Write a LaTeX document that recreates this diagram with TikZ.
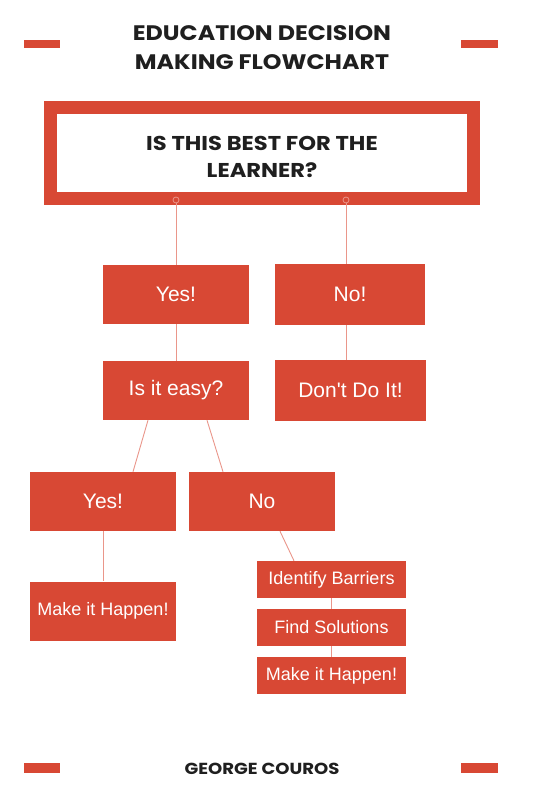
\documentclass[tikz,border=0pt]{standalone}
\usepackage{fontspec}
\setmainfont{Liberation Sans}
\newfontfamily\headfont{Poppins}[FakeStretch=1.13]
\usetikzlibrary{calc}
\definecolor{boxred}{RGB}{216,72,52}
\definecolor{linkred}{RGB}{234,150,138}
\tikzset{
	redbox/.style={fill=boxred, text=white, inner sep=0pt, minimum width=146pt, minimum height=59pt, font=\fontsize{21}{25}\selectfont},
	smallbox/.style={redbox, minimum width=149pt, minimum height=37pt, font=\fontsize{18}{22}\selectfont},
	link/.style={draw=linkred, line width=0.9pt},
	bar/.style={fill=boxred},
	head/.style={text=black!88, align=center, font=\headfont\bfseries\fontsize{21}{29}\selectfont}
}

\begin{document}
\begin{tikzpicture}[x=1pt, y=-1pt]
		%%%%% START %%%%%
		\useasboundingbox[fill=white] (0, 0) rectangle (540, 810);
		
		\fill[bar] (24, 40) rectangle (60, 48);
		\fill[bar] (461, 40) rectangle (498, 48);
		\node[head] (title) at (262, 47.5) {EDUCATION DECISION\\MAKING FLOWCHART};
		
		\node[draw=boxred, line width=13pt, minimum width=423pt, minimum height=91pt, inner sep=0pt] (best) at (262, 153) {};
		\node[head, font=\headfont\bfseries\fontsize{20}{27}\selectfont] (bestq) at (262, 156.5) {IS THIS BEST FOR THE\\LEARNER?};
		\node[circle, draw=linkred, fill=boxred, line width=0.8pt, minimum size=6pt, inner sep=0pt] (dyes) at (176, 200) {};
		\node[circle, draw=linkred, fill=boxred, line width=0.8pt, minimum size=6pt, inner sep=0pt] (dno) at (346, 200) {};
		
		\node[redbox] (yes) at (176, 294.5) {Yes!};
		\node[redbox, minimum width=150pt, minimum height=61pt] (no) at (350, 294.5) {No!};
		\node[redbox] (easy) at (176, 390.5) {Is it easy?};
		\node[redbox, minimum width=151pt, minimum height=61pt] (dont) at (350.5, 390.5) {Don\textquotesingle t Do It!};
		
		\node[redbox] (easyyes) at (103, 501.5) {Yes!};
		\node[redbox] (easyno) at (262, 501.5) {No};
		\node[redbox, font=\fontsize{18}{22}\selectfont] (happen) at (103, 611) {Make it Happen!};
		
		\node[smallbox] (barriers) at (331.5, 579.5) {Identify Barriers};
		\node[smallbox] (solutions) at (331.5, 627.5) {Find Solutions};
		\node[smallbox] (happenb) at (331.5, 675.5) {Make it Happen!};
		
		\draw[link] (dyes) -- (yes.north);
		\draw[link] (dno) -- (dno |- no.north);
		\draw[link] (yes.south) -- (easy.north);
		\draw[link] (dno |- no.south) -- (dno |- dont.north);
		\draw[link] ([xshift=-28pt]easy.south) -- ([xshift=30pt]easyyes.north);
		\draw[link] ([xshift=31pt]easy.south) -- ([xshift=-39pt]easyno.north);
		\draw[link] (easyyes.south) -- (happen.north);
		\draw[link] ([xshift=18pt]easyno.south) -- ([xshift=-37.5pt]barriers.north);
		\draw[link] (barriers.south) -- (solutions.north);
		\draw[link] (solutions.south) -- (happenb.north);
		
		\fill[bar] (24, 763) rectangle (60, 773);
		\fill[bar] (461, 763) rectangle (498, 773);
		\node[head, font=\headfont\bfseries\fontsize{16}{20}\selectfont] (author) at (262, 769) {GEORGE COUROS};
		%%%%% END %%%%%
	\end{tikzpicture}
\end{document}
